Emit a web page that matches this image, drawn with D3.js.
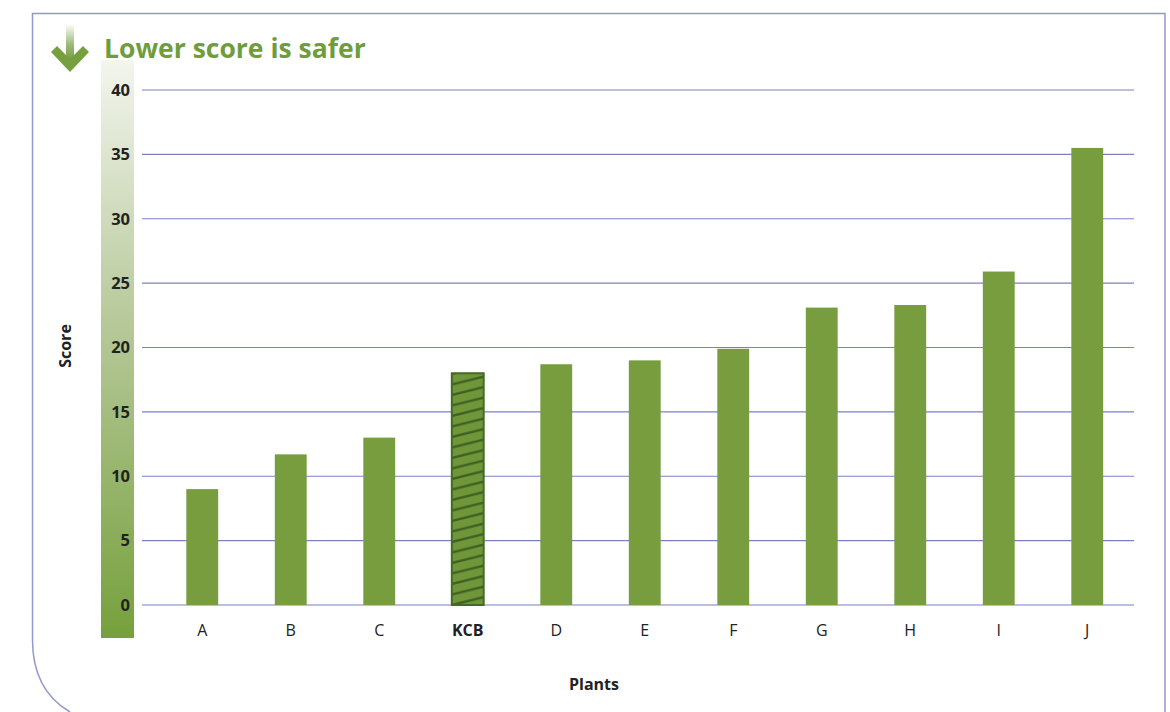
<!DOCTYPE html>
<html>
  <head>
    <meta charset="utf-8">
    <title>Lower score is safer</title>
    <style>
      body {
        margin: 0;
        background-color: white;
      }
      svg text {
        font-family: "Open Sans", sans-serif;
      }
    </style>
  </head>
  <body>
    <div id="chart"></div>

    <script src="https://d3js.org/d3.v7.min.js"></script>
    <script>
      var plants = ["A", "B", "C", "KCB", "D", "E", "F", "G", "H", "I", "J"];
      var scores = [9.0, 11.7, 13.0, 18.0, 18.7, 19.0, 19.9, 23.1, 23.3, 25.9, 35.5];
      var yTicks = [0, 5, 10, 15, 20, 25, 30, 35, 40];
      var highlight = "KCB";

      var width = 1170, height = 712;
      var green = "#789d3f";
      var gridColor = "#7b80c4";

      var svg = d3.select("#chart").append("svg")
        .attr("width", width)
        .attr("height", height);

      var defs = svg.append("defs");

      // gradient for the score strip and the arrow
      var grad = defs.append("linearGradient")
        .attr("id", "strip")
        .attr("x1", 0).attr("y1", 0).attr("x2", 0).attr("y2", 1);
      grad.append("stop").attr("offset", "0%").attr("stop-color", "#f3f5ee");
      grad.append("stop").attr("offset", "45%").attr("stop-color", "#b7c99a");
      grad.append("stop").attr("offset", "100%").attr("stop-color", "#76a03c");

      var arrowGrad = defs.append("linearGradient")
        .attr("id", "arrowGrad")
        .attr("x1", 0).attr("y1", 0).attr("x2", 0).attr("y2", 1);
      arrowGrad.append("stop").attr("offset", "0%").attr("stop-color", "#ffffff");
      arrowGrad.append("stop").attr("offset", "55%").attr("stop-color", "#9bb874");
      arrowGrad.append("stop").attr("offset", "100%").attr("stop-color", "#6f9a3c");

      var x = d3.scaleBand()
        .domain(plants)
        .range([158, 1131.5])
        .paddingInner(0.64)
        .paddingOuter(0.32);

      var y = d3.scaleLinear()
        .domain([0, 40])
        .range([605, 90]);

      // hatch pattern for highlighted bar
      var bw = x.bandwidth();
      var hatch = defs.append("pattern")
        .attr("id", "hatch")
        .attr("patternUnits", "userSpaceOnUse")
        .attr("x", x(highlight))
        .attr("y", y(0))
        .attr("width", bw)
        .attr("height", 10.5);
      hatch.append("rect")
        .attr("width", bw).attr("height", 10.5)
        .attr("fill", "#6f973a");
      hatch.append("path")
        .attr("d", "M0," + (10.5 + 0) + " L" + bw + "," + (10.5 - 8) +
                   " M0," + 0 + " L" + bw + "," + (-8) +
                   " M0," + 21 + " L" + bw + "," + 13)
        .attr("stroke", "#3f6020")
        .attr("stroke-width", 2.4);

      // outer frame with rounded bottom-left corner
      svg.append("path")
        .attr("d", "M1165,712 L1165,13.5 L32.5,13.5 L32.5,640 Q32.5,690 70,712")
        .attr("fill", "none")
        .attr("stroke", "#9597cf")
        .attr("stroke-width", 1.5);

      // arrow
      var arrow = svg.append("g");
      arrow.append("rect")
        .attr("x", 66).attr("y", 24).attr("width", 8).attr("height", 38)
        .attr("fill", "url(#arrowGrad)");
      arrow.append("path")
        .attr("d", "M51,52 L57,46 L70,59 L83,46 L89,52 L70,72 Z")
        .attr("fill", "#76a03f");

      svg.append("text")
        .attr("x", 104)
        .attr("y", 58)
        .attr("fill", "#6f9d3c")
        .attr("font-size", 26.5)
        .attr("font-weight", "bold")
        .text("Lower score is safer");

      // gradient strip behind tick labels
      svg.append("rect")
        .attr("x", 101)
        .attr("y", 60)
        .attr("width", 33)
        .attr("height", 578)
        .attr("fill", "url(#strip)");

      // gridlines
      svg.append("g")
        .selectAll("line")
        .data(yTicks)
        .enter()
        .append("line")
        .attr("x1", 142)
        .attr("x2", 1134)
        .attr("y1", function(d) { return y(d); })
        .attr("y2", function(d) { return y(d); })
        .attr("stroke", gridColor)
        .attr("stroke-width", 1.2);

      // y axis labels
      var yAxis = svg.append("g")
        .attr("transform", "translate(130,0)")
        .call(d3.axisLeft(y).tickValues(yTicks).tickSize(0).tickPadding(0));
      yAxis.select(".domain").remove();
      yAxis.selectAll("text")
        .attr("font-family", "'Open Sans', sans-serif")
        .attr("font-size", 16.5)
        .attr("font-weight", "bold")
        .attr("fill", "#222");

      // bars
      svg.append("g")
        .selectAll("rect")
        .data(plants)
        .enter()
        .append("rect")
        .attr("x", function(d) { return x(d); })
        .attr("y", function(d, i) { return y(scores[i]); })
        .attr("width", bw)
        .attr("height", function(d, i) { return y(0) - y(scores[i]); })
        .attr("fill", function(d) { return d === highlight ? "url(#hatch)" : green; })
        .attr("stroke", function(d) { return d === highlight ? "#456a26" : "none"; })
        .attr("stroke-width", 2);

      // x axis labels
      var xAxis = svg.append("g")
        .attr("transform", "translate(0,625)")
        .call(d3.axisBottom(x).tickSize(0).tickPadding(0));
      xAxis.select(".domain").remove();
      xAxis.selectAll("text")
        .attr("font-family", "'Open Sans', sans-serif")
        .attr("font-size", 16)
        .attr("fill", "#222")
        .attr("font-weight", function(d) { return d === highlight ? "bold" : "normal"; });

      svg.append("text")
        .attr("x", 594)
        .attr("y", 690)
        .attr("text-anchor", "middle")
        .attr("font-size", 16)
        .attr("font-weight", "bold")
        .attr("fill", "#222")
        .text("Plants");

      svg.append("text")
        .attr("transform", "translate(71,346) rotate(-90)")
        .attr("text-anchor", "middle")
        .attr("font-size", 16)
        .attr("font-weight", "bold")
        .attr("fill", "#222")
        .text("Score");
    </script>
  </body>
</html>
